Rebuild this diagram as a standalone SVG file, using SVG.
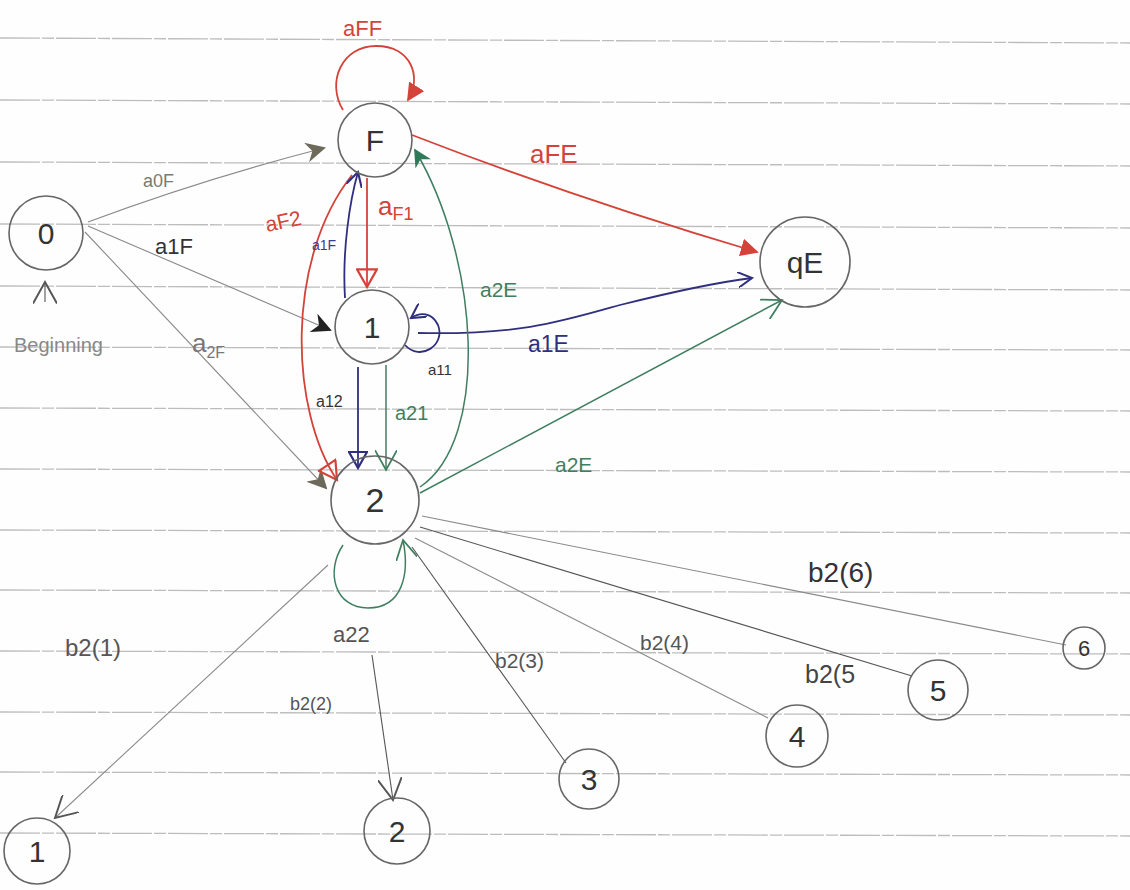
<svg xmlns="http://www.w3.org/2000/svg" width="1130" height="890" viewBox="0 0 1130 890">
<style>
.rule{stroke:#bdbdbd;stroke-width:1.3;stroke-dasharray:40 2 12 2}
.node{fill:none;stroke:#666;stroke-width:1.6}
.nl{font-family:"Liberation Sans",Arial,sans-serif;fill:#333;text-anchor:middle}
.lb{font-family:"Liberation Sans",Arial,sans-serif}
.gray{stroke:#8a8a8a;stroke-width:1.1;fill:none}
.red{stroke:#d4433a;stroke-width:1.8;fill:none}
.blue{stroke:#2f2f7e;stroke-width:1.8;fill:none}
.green{stroke:#3f7f60;stroke-width:1.5;fill:none}
.dark{stroke:#555;stroke-width:1.1;fill:none}
</style>
<defs>
<marker id="mGrayF" viewBox="0 0 10 10" refX="9" refY="5" markerWidth="20" markerHeight="20" markerUnits="userSpaceOnUse" orient="auto"><path d="M0,0 L10,5 L0,10 L3,5 Z" fill="#6d6a5c"/></marker>
<marker id="mBlackF" viewBox="0 0 10 10" refX="9" refY="5" markerWidth="20" markerHeight="20" markerUnits="userSpaceOnUse" orient="auto"><path d="M0,0 L10,5 L0,10 L3,5 Z" fill="#222"/></marker>
<marker id="mRedF" viewBox="0 0 10 10" refX="9" refY="5" markerWidth="18" markerHeight="18" markerUnits="userSpaceOnUse" orient="auto"><path d="M0,0 L10,5 L0,10 Z" fill="#d4433a"/></marker>
<marker id="mRedO" viewBox="0 0 10 10" refX="9" refY="5" markerWidth="22" markerHeight="22" markerUnits="userSpaceOnUse" orient="auto"><path d="M1,0.5 L9,5 L1,9.5 Z" fill="none" stroke="#d4433a" stroke-width="1"/></marker>
<marker id="mBlueO" viewBox="0 0 10 10" refX="9" refY="5" markerWidth="20" markerHeight="20" markerUnits="userSpaceOnUse" orient="auto"><path d="M1,0.5 L9,5 L1,9.5 Z" fill="none" stroke="#2f2f7e" stroke-width="1.1"/></marker>
<marker id="mBlueV" viewBox="0 0 10 10" refX="9" refY="5" markerWidth="16" markerHeight="16" markerUnits="userSpaceOnUse" orient="auto"><path d="M0,0 L9,5 L0,10" fill="none" stroke="#2f2f7e" stroke-width="1.3"/></marker>
<marker id="mGreenF" viewBox="0 0 10 10" refX="9" refY="5" markerWidth="18" markerHeight="18" markerUnits="userSpaceOnUse" orient="auto"><path d="M0,0 L10,5 L0,10 L3,5 Z" fill="#2f7a58"/></marker>
<marker id="mGreenV" viewBox="0 0 10 10" refX="9" refY="5" markerWidth="22" markerHeight="22" markerUnits="userSpaceOnUse" orient="auto"><path d="M0,0 L9,5 L0,10" fill="none" stroke="#3f7f60" stroke-width="0.8"/></marker>
<marker id="mGrayV" viewBox="0 0 10 10" refX="9" refY="5" markerWidth="24" markerHeight="24" markerUnits="userSpaceOnUse" orient="auto"><path d="M0,0 L9,5 L0,10" fill="none" stroke="#555" stroke-width="0.8"/></marker>
</defs>
<rect width="1130" height="890" fill="#fefefe"/>
<g id="paper-lines">
<line class="rule" x1="0" y1="38" x2="1130" y2="43"/>
<line class="rule" x1="0" y1="100" x2="1130" y2="104"/>
<line class="rule" x1="0" y1="162" x2="1130" y2="166"/>
<line class="rule" x1="0" y1="224" x2="1130" y2="228"/>
<line class="rule" x1="0" y1="286" x2="1130" y2="290"/>
<line class="rule" x1="0" y1="347" x2="1130" y2="350"/>
<line class="rule" x1="0" y1="408" x2="1130" y2="411"/>
<line class="rule" x1="0" y1="469" x2="1130" y2="472"/>
<line class="rule" x1="0" y1="530" x2="1130" y2="533"/>
<line class="rule" x1="0" y1="590" x2="1130" y2="593"/>
<line class="rule" x1="0" y1="651" x2="1130" y2="654"/>
<line class="rule" x1="0" y1="712" x2="1130" y2="715"/>
<line class="rule" x1="0" y1="772" x2="1130" y2="775"/>
<line class="rule" x1="0" y1="833" x2="1130" y2="836"/>
</g>
<g id="connectors">
<path class="gray" d="M88,222 Q200,180 324,148" marker-end="url(#mGrayF)"/>
<path class="gray" d="M88,226 L330,330" marker-end="url(#mBlackF)"/>
<path class="gray" d="M85,232 L326,488" marker-end="url(#mGrayF)"/>
<path class="dark" d="M45,302 L45,282" marker-end="url(#mGrayV)" stroke-width="1.4"/>
<path class="red" d="M343,110 C326,82 342,46 376,46 C412,46 422,78 408,100" marker-end="url(#mRedF)"/>
<path class="red" d="M412,135 Q580,200 757,252" marker-end="url(#mRedF)"/>
<path class="red" d="M367,178 L367,287" marker-end="url(#mRedO)"/>
<path class="red" d="M352,175 C285,260 290,410 337,480" marker-end="url(#mRedO)"/>
<path class="blue" d="M345,298 C342,250 350,200 358,172" marker-end="url(#mBlueV)"/>
<path class="blue" d="M405,345 C420,362 446,345 438,325 C432,312 420,312 411,318" marker-end="url(#mBlueV)"/>
<path class="blue" d="M418,333 C520,335 560,322 620,305 C680,290 720,282 752,278" marker-end="url(#mBlueV)"/>
<path class="blue" d="M358,367 L358,468" marker-end="url(#mBlueO)"/>
<path class="green" d="M386,365 L386,470" marker-end="url(#mGreenV)" stroke-width="2"/>
<path class="green" d="M420,487 C490,440 480,260 415,150" marker-end="url(#mGreenF)"/>
<path class="green" d="M420,493 L782,300" marker-end="url(#mGreenV)" stroke-width="1.1"/>
<path class="green" d="M343,545 C325,572 335,608 368,608 C402,608 410,575 403,540" marker-end="url(#mGreenV)"/>
<path class="gray" d="M328,565 L55,818" marker-end="url(#mGrayV)"/>
<path class="dark" d="M372,655 L393,800" marker-end="url(#mGrayV)"/>
<path class="dark" d="M412,547 L566,763"/>
<path class="gray" d="M415,538 L768,718"/>
<path class="dark" d="M420,527 L912,676"/>
<path class="gray" d="M422,516 L1066,645"/>
</g>
<g id="edge-labels" class="lb">
<text x="343" y="36" font-size="22" fill="#d4433a">aFF</text>
<text x="530" y="163" font-size="26" fill="#d4433a">aFE</text>
<text x="143" y="187" font-size="18" fill="#7a7a70">a0F</text>
<text x="155" y="254" font-size="22" fill="#333">a1F</text>
<text x="265" y="228" font-size="21" fill="#d4433a" transform="rotate(-12 285 220)">aF2</text>
<text x="378" y="215" font-size="26" fill="#d4433a">a<tspan font-size="18" dy="5">F1</tspan></text>
<text x="312" y="250" font-size="14" fill="#3a3a9a">a1F</text>
<text x="480" y="297" font-size="21" fill="#3f7f60">a2E</text>
<text x="528" y="352" font-size="23" fill="#2f2f7e">a1E</text>
<text x="428" y="375" font-size="15" fill="#333">a11</text>
<text x="316" y="407" font-size="16" fill="#333">a12</text>
<text x="395" y="420" font-size="20" fill="#3f7f60">a21</text>
<text x="192" y="352" font-size="26" fill="#777">a<tspan font-size="16" dy="6">2F</tspan></text>
<text x="555" y="472" font-size="21" fill="#3f7f60">a2E</text>
<text x="14" y="352" font-size="20" fill="#888">Beginning</text>
<text x="333" y="642" font-size="22" fill="#555">a22</text>
<text x="65" y="656" font-size="24" fill="#555">b2(1)</text>
<text x="290" y="710" font-size="18" fill="#555">b2(2)</text>
<text x="495" y="668" font-size="21" fill="#555">b2(3)</text>
<text x="640" y="650" font-size="21" fill="#555">b2(4)</text>
<text x="805" y="683" font-size="25" fill="#444">b2(5</text>
<text x="808" y="582" font-size="28" fill="#333">b2(6)</text>
</g>
<g id="node-0"><circle class="node" cx="46" cy="233" r="37"/><text class="nl" x="46" y="244" font-size="30" fill="#777">0</text></g>
<g id="node-F"><circle class="node" cx="375" cy="140" r="37" stroke="#b0443c"/><text class="nl" x="375" y="151" font-size="30">F</text></g>
<g id="node-1"><circle class="node" cx="372" cy="327" r="37" stroke="#2a2a55" stroke-width="2"/><text class="nl" x="372" y="338" font-size="30">1</text></g>
<g id="node-2"><circle class="node" cx="375" cy="500" r="44" stroke="#2f5e45" stroke-width="1.8"/><text class="nl" x="375" y="512" font-size="34">2</text></g>
<g id="node-qE"><circle class="node" cx="805" cy="262" r="45" stroke="#888"/><text class="nl" x="805" y="273" font-size="30">qE</text></g>
<g id="leaf-1"><circle class="node" cx="37" cy="851" r="33"/><text class="nl" x="37" y="862" font-size="30">1</text></g>
<g id="leaf-2"><circle class="node" cx="397" cy="831" r="33"/><text class="nl" x="397" y="842" font-size="30">2</text></g>
<g id="leaf-3"><circle class="node" cx="589" cy="779" r="30"/><text class="nl" x="589" y="790" font-size="30">3</text></g>
<g id="leaf-4"><circle class="node" cx="797" cy="736" r="31"/><text class="nl" x="797" y="747" font-size="30">4</text></g>
<g id="leaf-5"><circle class="node" cx="938" cy="690" r="30"/><text class="nl" x="938" y="701" font-size="30">5</text></g>
<g id="leaf-6"><circle class="node" cx="1084" cy="648" r="21"/><text class="nl" x="1084" y="656" font-size="22">6</text></g>
</svg>
